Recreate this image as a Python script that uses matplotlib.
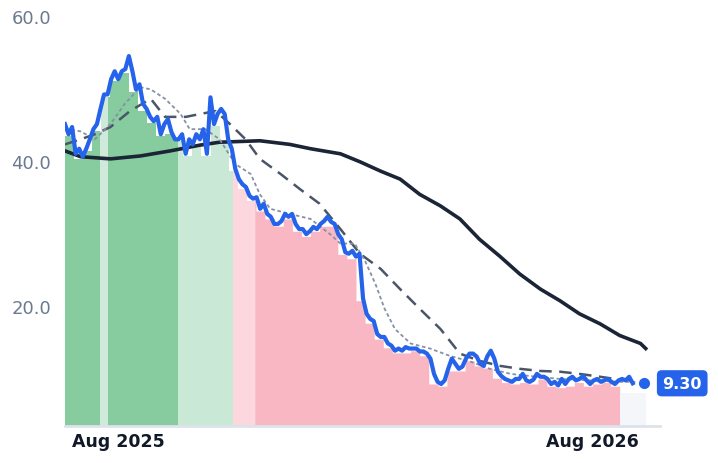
import matplotlib
matplotlib.use("Agg")
import matplotlib.pyplot as plt
import numpy as np
import pandas as pd

base = pd.Timestamp("2025-08-01")
price = [45.1,43.7,44.7,41.0,41.7,40.6,41.7,43.0,44.4,45.1,47.2,49.2,49.2,51.3,52.4,51.3,52.4,52.7,54.5,52.4,49.9,50.6,47.9,47.2,46.1,45.5,46.1,43.7,45.1,45.8,44.0,43.0,43.0,43.7,41.0,43.0,42.3,43.7,43.0,44.4,41.0,48.8,45.1,46.5,47.2,46.5,43.0,41.7,38.9,37.5,36.8,36.4,35.2,34.8,35.0,33.4,34.1,32.7,32.3,31.3,31.3,31.7,32.7,32.3,32.7,31.3,30.6,30.6,29.9,30.3,30.9,30.6,31.3,31.7,32.3,31.6,31.3,29.9,29.2,27.4,27.2,27.6,26.8,27.2,21.0,18.9,18.2,17.9,16.1,15.7,15.7,14.8,14.5,13.8,14.1,13.8,14.3,14.1,14.1,14.1,13.7,13.7,13.4,12.7,10.6,9.5,9.2,9.7,11.3,12.7,12.0,11.3,11.6,12.7,13.4,13.4,13.0,12.0,11.7,13.0,13.8,12.7,10.9,10.3,9.9,9.7,9.5,9.9,9.9,10.6,9.7,9.5,9.8,10.6,10.2,10.2,9.9,9.2,9.5,9.0,9.9,9.2,9.9,10.2,9.7,9.9,10.3,9.7,9.2,9.7,9.9,9.5,9.7,9.9,9.5,9.2,9.7,9.9,9.7,10.2,9.3]
price_start, price_end = -41, 396

ma200_days = [-41,-29,-6,17,40,63,78,109,132,148,171,186,202,217,232,248,263,278,294,309,325,340,355,371,386,402,406]
ma200 = [41.4,40.6,40.3,40.7,41.4,42.2,42.6,42.8,42.3,41.7,41.0,39.9,38.6,37.5,35.4,33.8,32.0,29.2,26.8,24.4,22.3,20.7,18.9,17.5,15.9,14.8,14.1]
ma50_days = [-41,-29,-18,-6,9,25,36,52,63,75,86,98,109,125,140,155,171,186,202,217,232,248,263,278,294,309,325,340,355,371,386,398]
ma50 = [42.3,43.0,43.7,44.7,46.9,48.6,46.1,46.1,46.5,46.9,45.1,43.0,40.3,38.2,36.1,34.1,30.6,27.2,25.1,22.3,19.6,16.8,13.4,12.4,11.7,11.3,11.0,10.9,10.6,10.2,9.8,9.7]
ma20_days = [-41,-29,-18,-6,5,17,25,36,48,55,67,78,90,102,109,117,132,148,163,171,182,190,198,205,213,225,240,255,271,286,302,317,340,363,386,398]
ma20 = [44.4,44.1,43.0,45.1,47.9,50.2,49.9,48.6,46.5,44.4,44.4,43.0,39.6,38.2,35.4,33.4,32.7,32.0,29.9,28.6,28.6,26.2,23.0,19.6,16.8,14.8,14.1,13.1,12.3,11.3,10.6,10.3,9.9,9.7,9.5,9.5]

seg_edges = [-41,-14,-8,46,88,105,386,406]
seg_colors = ["#86cc9e","#cfeadb","#86cc9e","#c9e9d6","#fcd8de","#f8b7c3","#f4f6f9"]

last_val = 9.30
ymin, ymax = 3.4, 61

fig = plt.figure(figsize=(7.18,4.64), dpi=100)
ax = fig.add_axes([65/718, 37/464, (660-65)/718, (427-10)/464])

dates = pd.to_datetime(base) + pd.to_timedelta(np.linspace(price_start, price_end, len(price)), unit="D")
s = pd.Series(price, index=dates)
wk = s.resample("7D", origin=base + pd.Timedelta(days=seg_edges[0])).min()

for i in range(len(seg_edges)-1):
    a = base + pd.Timedelta(days=seg_edges[i]); b = base + pd.Timedelta(days=seg_edges[i+1])
    xs = pd.date_range(a, b, freq="1D")
    vals = wk.reindex(xs, method="ffill").bfill().fillna(last_val).values - 0.3
    if i == len(seg_edges)-2:
        vals = np.full(len(xs), 8.0)
    ax.fill_between(xs, ymin, vals, step="post", color=seg_colors[i], lw=0, zorder=1)

def d(lst):
    return [base + pd.Timedelta(days=v) for v in lst]

ax.plot(d(ma200_days), ma200, color="#1c2536", lw=2.6, zorder=3)
ax.plot(d(ma50_days), ma50, color="#4a5568", lw=1.8, ls=(0,(5,3)), zorder=3)
ax.plot(d(ma20_days), ma20, color="#8591a5", lw=1.3, ls=(0,(2,1.5)), zorder=3)
ax.plot(dates, price, color="#2563eb", lw=3, zorder=4, solid_joinstyle="round")

mx = base + pd.Timedelta(days=405)
ax.plot([mx], [last_val], "o", color="#2563eb", ms=7, zorder=5, clip_on=False)
ax.annotate(f"{last_val:.2f}", xy=(mx, last_val), xytext=(13, 0), textcoords="offset points",
            va="center", ha="left", color="white", fontsize=11.5, fontweight="bold",
            bbox=dict(boxstyle="round,pad=0.35,rounding_size=0.3", fc="#2563eb", ec="none"),
            annotation_clip=False)

ax.set_ylim(ymin, ymax)
ax.set_xlim(base + pd.Timedelta(days=-41), base + pd.Timedelta(days=417))
ax.set_yticks([20, 40, 60])
ax.set_yticklabels(["20.0", "40.0", "60.0"])
ax.tick_params(axis="y", length=0, labelsize=13, labelcolor="#6b7a90", pad=10)
ax.set_xticks([pd.Timestamp("2025-08-01"), pd.Timestamp("2026-08-01")])
ax.set_xticklabels(["Aug 2025", "Aug 2026"], fontweight="bold", fontsize=12.5, color="#111827")
ax.tick_params(axis="x", length=0, pad=4)
for sp in ["top", "right", "left"]:
    ax.spines[sp].set_visible(False)
ax.spines["bottom"].set_color("#dde3ea")
ax.spines["bottom"].set_linewidth(2)

fig.savefig("out.png", dpi=100)
